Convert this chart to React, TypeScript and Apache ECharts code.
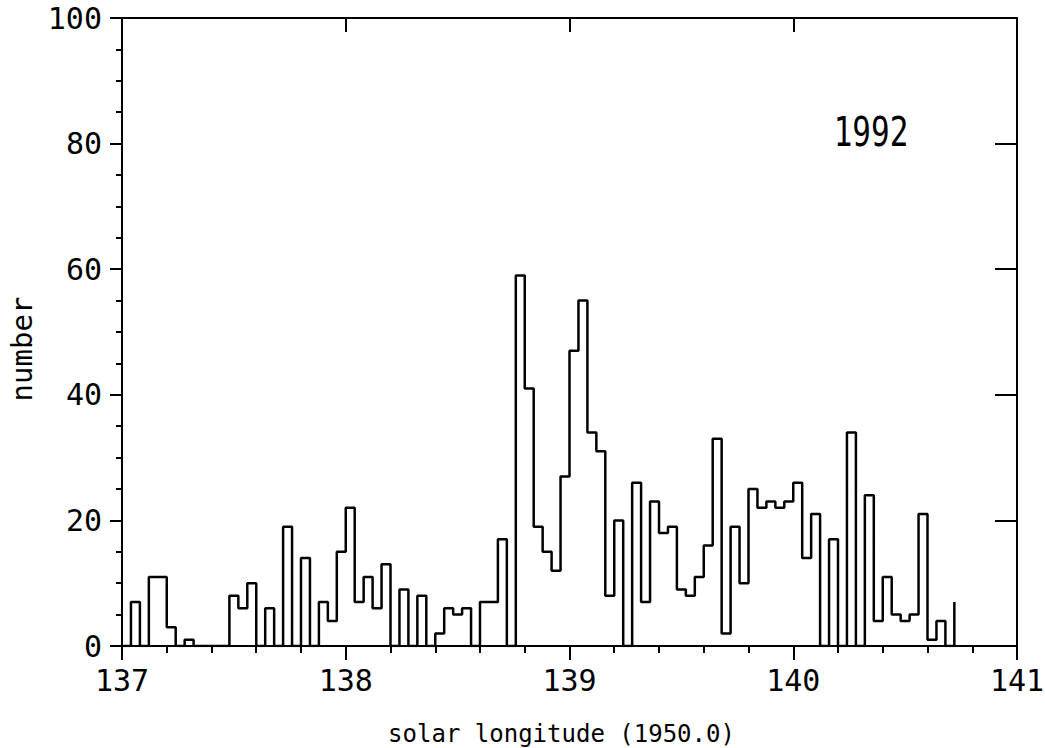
import React, { useEffect, useRef } from "react";
import * as echarts from "echarts";

// Histogram bin starts (solar longitude, 0.04° bins) and counts
const binStarts: number[] = [
  137.00, 137.04, 137.08, 137.12, 137.16, 137.20, 137.24, 137.28, 137.32, 137.36,
  137.40, 137.44, 137.48, 137.52, 137.56, 137.60, 137.64, 137.68, 137.72, 137.76,
  137.80, 137.84, 137.88, 137.92, 137.96, 138.00, 138.04, 138.08, 138.12, 138.16,
  138.20, 138.24, 138.28, 138.32, 138.36, 138.40, 138.44, 138.48, 138.52, 138.56,
  138.60, 138.64, 138.68, 138.72, 138.76, 138.80, 138.84, 138.88, 138.92, 138.96,
  139.00, 139.04, 139.08, 139.12, 139.16, 139.20, 139.24, 139.28, 139.32, 139.36,
  139.40, 139.44, 139.48, 139.52, 139.56, 139.60, 139.64, 139.68, 139.72, 139.76,
  139.80, 139.84, 139.88, 139.92, 139.96, 140.00, 140.04, 140.08, 140.12, 140.16,
  140.20, 140.24, 140.28, 140.32, 140.36, 140.40, 140.44, 140.48, 140.52, 140.56,
  140.60, 140.64, 140.68, 140.72,
];
const counts: number[] = [
  0, 7, 0, 11, 11, 3, 0, 1, 0, 0,
  0, 0, 8, 6, 10, 0, 6, 0, 19, 0,
  14, 0, 7, 4, 15, 22, 7, 11, 6, 13,
  0, 9, 0, 8, 0, 2, 6, 5, 6, 0,
  7, 7, 17, 0, 59, 41, 19, 15, 12, 27,
  47, 55, 34, 31, 8, 20, 0, 26, 7, 23,
  18, 19, 9, 8, 11, 16, 33, 2, 19, 10,
  25, 22, 23, 22, 23, 26, 14, 21, 0, 17,
  0, 34, 0, 24, 4, 11, 5, 4, 5, 21,
  1, 4, 0, 7,
];

const xMin = 137;
const xMax = 141;
const yMin = 0;
const yMax = 100;
const yearLabel = "1992";
const xName = "solar longitude (1950.0)";
const yName = "number";

const FONT = "'DejaVu Sans Mono', 'Liberation Mono', monospace";

export default function App() {
  const ref = useRef<HTMLDivElement>(null);

  useEffect(() => {
    if (!ref.current) return;
    const chart = echarts.init(ref.current, undefined, { renderer: "svg" });
    const black = "#000";
    const line = { color: black, width: 2 };
    const data = binStarts.map((x, i) => [x, counts[i]]);

    chart.setOption({
      animation: false,
      backgroundColor: "#fff",
      grid: {
        left: 122,
        right: 28,
        top: 18,
        bottom: 102,
        containLabel: false,
        outerBoundsMode: "none",
      },
      xAxis: [
        {
          type: "value",
          position: "bottom",
          min: xMin,
          max: xMax,
          interval: 1,
          axisLine: { show: true, onZero: false, lineStyle: line },
          axisTick: { show: true, inside: false, length: 14, lineStyle: line },
          minorTick: { show: true, splitNumber: 5, length: 7, lineStyle: line },
          splitLine: { show: false },
          axisLabel: { fontSize: 30, fontFamily: FONT, color: black, margin: 19 },
          name: xName,
          nameLocation: "middle",
          nameGap: 76,
          nameTextStyle: { fontSize: 24, fontFamily: FONT, color: black, padding: [0, 16, 0, 0] },
        },
        {
          type: "value",
          position: "top",
          min: xMin,
          max: xMax,
          interval: 1,
          axisLine: { show: true, onZero: false, lineStyle: line },
          axisTick: { show: true, inside: true, length: 14, lineStyle: line },
          axisLabel: { show: false },
          splitLine: { show: false },
        },
      ],
      yAxis: [
        {
          type: "value",
          position: "left",
          min: yMin,
          max: yMax,
          interval: 20,
          axisLine: { show: true, onZero: false, lineStyle: line },
          axisTick: { show: true, inside: false, length: 12, lineStyle: line },
          minorTick: { show: true, splitNumber: 4, length: 6, lineStyle: line },
          splitLine: { show: false },
          axisLabel: { fontSize: 30, fontFamily: FONT, color: black, margin: 20 },
          name: yName,
          nameLocation: "middle",
          nameGap: 85,
          nameTextStyle: { fontSize: 29, fontFamily: FONT, color: black, padding: [0, 34, 0, 0] },
        },
        {
          type: "value",
          position: "right",
          min: yMin,
          max: yMax,
          interval: 20,
          axisLine: { show: true, onZero: false, lineStyle: line },
          axisTick: { show: true, inside: true, length: 22, lineStyle: line },
          axisLabel: { show: false },
          splitLine: { show: false },
        },
      ],
      graphic: [
        {
          type: "text",
          x: 871,
          y: 132,
          scaleY: 1.3,
          style: {
            text: yearLabel,
            fontSize: 31,
            fontFamily: FONT,
            fill: black,
            textAlign: "center",
            textVerticalAlign: "middle",
          },
        },
      ],
      series: [
        {
          type: "line",
          xAxisIndex: 0,
          yAxisIndex: 0,
          step: "end",
          data,
          showSymbol: false,
          symbol: "none",
          lineStyle: { color: black, width: 2.5 },
          silent: true,
        },
      ],
    });

    return () => chart.dispose();
  }, []);

  return (
    <div
      ref={ref}
      style={{ position: "fixed", left: 0, top: 0, width: 1045, height: 748, background: "#fff" }}
    />
  );
}
